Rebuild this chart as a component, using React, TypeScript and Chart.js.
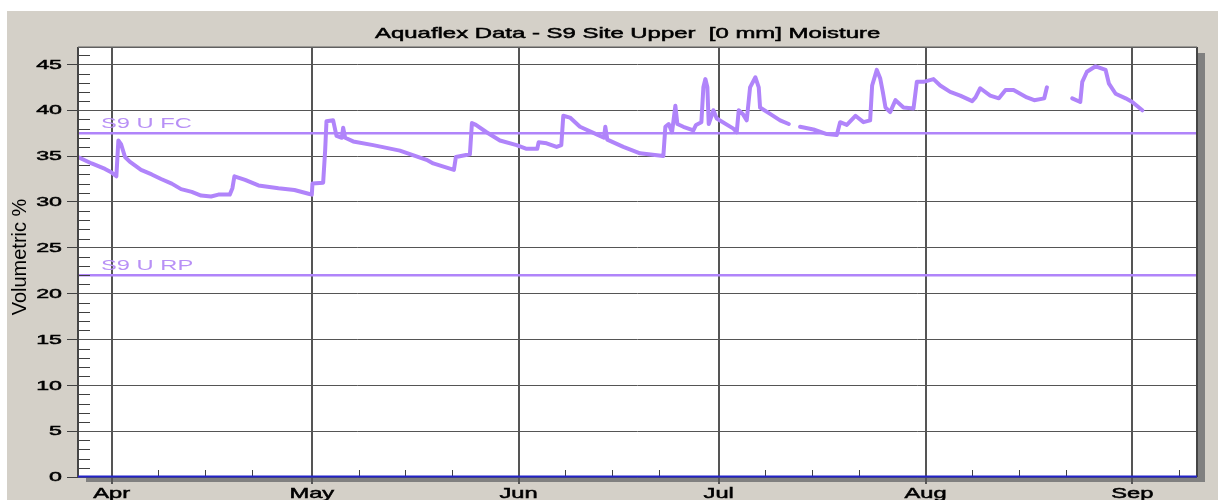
import { useEffect, useRef } from 'react';
import { Chart, registerables } from 'chart.js';

Chart.register(...registerables);

// ---------- text ----------
const titleText = 'Aquaflex Data - S9 Site Upper  [0 mm] Moisture';
const yAxisTitle = 'Volumetric %';
const seriesName = 'S9 Upper [0 mm]';
const fcLabel = 'S9 U FC';
const rpLabel = 'S9 U RP';

// ---------- reference levels ----------
const fieldCapacity = 37.5;
const refillPoint = 22;

// ---------- x axis (days after 1 April) ----------
const xMin = -5.05;
const xMax = 162.7;
const monthDays = [0, 30, 61, 91, 122, 153];
const monthLabels = ['Apr', 'May', 'Jun', 'Jul', 'Aug', 'Sep'];
const weekDays = [7, 14, 21, 37, 44, 51, 68, 75, 82, 98, 105, 112, 129, 136, 143, 160];

// ---------- y axis ----------
const yMin = 0;
const yMax = 46.9;
const yLabelValues = [0, 5, 10, 15, 20, 25, 30, 35, 40, 45];
const yMinorValues = [
  1, 2, 3, 4, 6, 7, 8, 9, 11, 12, 13, 14, 16, 17, 18, 19, 21, 22, 23, 24,
  26, 27, 28, 29, 31, 32, 33, 34, 36, 37, 38, 39, 41, 42, 43, 44, 46,
];

// ---------- series (x = days after 1 April, y = volumetric %) ----------
const days = [
  -5.05, -3, -1, 0, 0.7, 1.0, 1.4, 2.0, 2.7, 4.4, 6, 7.4, 9, 10.4, 12, 13.4, 14.9, 16, 17.7, 18.1,
  18.4, 20, 22, 25, 27.4, 29.5, 30, 30.1, 31.7, 32.0, 32.2, 33.2, 33.7, 34.5, 34.7, 35.0, 36.2, 39.2,
  43.2, 47.2, 48.2, 51.3, 51.6, 53.7, 54.0, 54.6, 56.2, 58.2, 60.7, 62.2, 63.8, 64.0, 65.2, 66.7,
  67.4, 67.7, 68.7, 70.2, 73.2, 73.8, 74.0, 74.3, 76.7, 79.2, 82.7, 83.0, 83.5, 84.0, 84.5, 84.8,
  85.7, 87.2, 87.6, 88.4, 88.7, 89.0, 89.3, 89.5, 90.2, 90.7, 93.2, 93.7, 94.0, 94.6, 95.2, 95.7,
  96.5, 97.0, 97.2, 98.7, 100.2, 101.5, 102.3, 103.2, 105.2, 107.2, 108.7, 109.2, 110.2, 111.5,
  112.7, 113.7, 114.0, 114.7, 115.2, 115.6, 116.0, 116.7, 117.5, 118.7, 120.2, 120.7, 121.7, 123.2,
  124.2, 125.7, 127.2, 129.0, 129.5, 130.2, 131.7, 133.0, 134.0, 135.2, 137.2, 138.3, 139.8, 140.2,
  142.0, 144.0, 145.2, 145.5, 146.2, 147.5, 149.0, 149.5, 150.5, 152.0, 153.0, 154.5,
];
const moisture: (number | null)[] = [
  34.9, 34.2, 33.6, 33.2, 32.8, 36.7, 36.3, 34.9, 34.4, 33.5, 33.0, 32.5, 32.0, 31.4, 31.1, 30.7, 30.6, 30.8, 30.8, 31.5,
  32.8, 32.4, 31.8, 31.5, 31.3, 30.9, 30.8, 32.0, 32.1, 35.6, 38.8, 38.9, 37.2, 37.0, 38.1, 37.0, 36.6, 36.2,
  35.6, 34.6, 34.2, 33.5, 34.9, 35.2, 38.6, 38.4, 37.6, 36.7, 36.2, 35.8, 35.8, 36.5, 36.4, 36.0,
  36.2, 39.4, 39.2, 38.2, 37.2, 37.0, 38.2, 36.8, 36.0, 35.3, 35.0, 38.2, 38.5, 37.6, 40.5, 38.5,
  38.2, 37.8, 38.4, 38.7, 42.5, 43.4, 42.5, 38.5, 40.0, 39.1, 38.0, 37.6, 40.0, 39.6, 38.9, 42.5,
  43.6, 42.5, 40.3, 39.6, 38.9, 38.5, null, 38.2, 37.9, 37.4, 37.3, 38.7, 38.4, 39.4,
  38.7, 38.9, 42.7, 44.4, 43.5, 42.0, 40.3, 39.8, 41.1, 40.3, 40.2, 43.1, 43.1, 43.4,
  42.7, 42.0, 41.6, 41.0, 41.4, 42.4, 41.6, 41.3, 42.2, 42.2, 41.4, 41.1, 41.3, 42.5,
  null, 41.3, 40.9, 43.1, 44.2, 44.8, 44.4, 42.9, 41.8, 41.3, 40.9, 40.0,
];

// ---------- styling ----------
const purple = '#b084fa';
const labelPurple = '#b890f6';
const gridGray = '#555555';
const panelGray = '#d4d0c8';
const shadowGray = '#808080';
const axisBlue = '#2323c8';
const fontFamily = '"Liberation Sans", Arial, sans-serif';

const stretchedText = (
  ctx: CanvasRenderingContext2D,
  text: string,
  x: number,
  y: number,
  sx: number,
  align: CanvasTextAlign,
  baseline: CanvasTextBaseline,
  weight = 0.5,
) => {
  ctx.save();
  ctx.translate(x, y);
  ctx.scale(sx, 1);
  ctx.textAlign = align;
  ctx.textBaseline = baseline;
  ctx.fillText(text, 0, 0);
  if (weight > 0) {
    ctx.strokeStyle = ctx.fillStyle as string;
    ctx.lineWidth = weight;
    ctx.strokeText(text, 0, 0);
  }
  ctx.restore();
};

const panelPlugin = {
  id: 'panelPlugin',
  beforeDraw(chart: any) {
    const { ctx, chartArea: a, width, height } = chart;
    ctx.save();
    ctx.fillStyle = '#ffffff';
    ctx.fillRect(0, 0, width, height);
    ctx.fillStyle = panelGray;
    ctx.fillRect(7, 11, width - 7, height - 11);
    ctx.fillStyle = shadowGray;
    ctx.fillRect(a.left + 8, a.top + 6, a.right - a.left, a.bottom - a.top - 1);
    ctx.fillStyle = '#ffffff';
    ctx.fillRect(a.left, a.top, a.right - a.left, a.bottom - a.top);
    ctx.restore();
  },
  afterDraw(chart: any) {
    const { ctx, chartArea: a } = chart;
    const xs = chart.scales.x;
    const ys = chart.scales.y;
    ctx.save();
    // minor ticks inside the plot
    ctx.strokeStyle = '#404040';
    ctx.lineWidth = 1;
    ctx.beginPath();
    yMinorValues.forEach((v) => {
      const y = Math.round(ys.getPixelForValue(v)) + 0.5;
      ctx.moveTo(a.left, y);
      ctx.lineTo(a.left + 12, y);
    });
    weekDays.forEach((d) => {
      const x = Math.round(xs.getPixelForValue(d)) + 0.5;
      ctx.moveTo(x, a.bottom);
      ctx.lineTo(x, a.bottom - 7);
    });
    ctx.stroke();
    // frame
    ctx.fillStyle = '#454545';
    ctx.fillRect(a.left - 1, a.top, 2, a.bottom - a.top);
    ctx.fillRect(a.right - 1, a.top, 2, a.bottom - a.top);
    ctx.fillStyle = '#606060';
    ctx.fillRect(a.left, a.top - 0.5, a.right - a.left, 1.5);
    ctx.fillStyle = axisBlue;
    ctx.fillRect(a.left, a.bottom - 1.5, a.right - a.left, 2);

    // texts
    ctx.fillStyle = '#000000';
    ctx.font = `15px ${fontFamily}`;
    stretchedText(ctx, titleText, 375, 37.5, 1.595, 'left', 'alphabetic');
    monthDays.forEach((d, i) => {
      stretchedText(ctx, monthLabels[i], xs.getPixelForValue(d), 497.5, 1.58, 'center', 'alphabetic');
    });
    ctx.font = `13.5px ${fontFamily}`;
    yLabelValues.forEach((v) => {
      stretchedText(ctx, String(v), 62, ys.getPixelForValue(v) + 0.5, 1.72, 'right', 'middle');
    });
    // rotated axis title
    ctx.save();
    ctx.font = `20px ${fontFamily}`;
    ctx.translate(20, 257);
    ctx.rotate(-Math.PI / 2);
    ctx.textAlign = 'center';
    ctx.textBaseline = 'middle';
    ctx.fillText(yAxisTitle, 0, 0);
    ctx.restore();
    // level labels
    ctx.fillStyle = labelPurple;
    ctx.font = `15px ${fontFamily}`;
    stretchedText(ctx, fcLabel, a.left + 23, ys.getPixelForValue(fieldCapacity) - 5.5, 1.58, 'left', 'alphabetic', 0);
    stretchedText(ctx, rpLabel, a.left + 23, ys.getPixelForValue(refillPoint) - 5.5, 1.58, 'left', 'alphabetic', 0);
    ctx.restore();
  },
};

export default function App() {
  const canvasRef = useRef<HTMLCanvasElement | null>(null);

  useEffect(() => {
    if (!canvasRef.current) return;
    const series = days.map((d, i) => ({ x: d, y: moisture[i] }));
    const chart = new Chart(canvasRef.current, {
      type: 'line',
      data: {
        datasets: [
          {
            label: fcLabel,
            data: [
              { x: xMin, y: fieldCapacity },
              { x: xMax, y: fieldCapacity },
            ],
            borderColor: purple,
            borderWidth: 2.5,
            pointRadius: 0,
          },
          {
            label: rpLabel,
            data: [
              { x: xMin, y: refillPoint },
              { x: xMax, y: refillPoint },
            ],
            borderColor: purple,
            borderWidth: 2.5,
            pointRadius: 0,
          },
          {
            label: seriesName,
            data: series,
            borderColor: purple,
            borderWidth: 4,
            pointRadius: 0,
            tension: 0,
            spanGaps: false,
            borderJoinStyle: 'round',
            borderCapStyle: 'round',
          },
        ],
      },
      options: {
        responsive: false,
        animation: false,
        events: [],
        layout: { padding: { left: 0, top: 47, right: 21, bottom: 0 } },
        plugins: {
          legend: { display: false },
          title: { display: false },
          tooltip: { enabled: false },
        },
        scales: {
          x: {
            type: 'linear',
            min: xMin,
            max: xMax,
            afterBuildTicks: (s: any) => {
              s.ticks = [...monthDays, ...weekDays].sort((p, q) => p - q).map((v) => ({ value: v }));
            },
            afterFit: (s: any) => {
              s.height = 23;
            },
            ticks: { display: false },
            border: { display: false },
            grid: {
              color: (c: any) => (c.tick && monthDays.includes(c.tick.value) ? gridGray : 'rgba(0,0,0,0)'),
              lineWidth: 2,
              drawTicks: true,
              tickLength: 7,
              tickColor: (c: any) => (c.tick && monthDays.includes(c.tick.value) ? gridGray : 'rgba(0,0,0,0)'),
            },
          },
          y: {
            type: 'linear',
            min: yMin,
            max: yMax,
            afterBuildTicks: (s: any) => {
              s.ticks = [...yLabelValues, ...yMinorValues].sort((p, q) => p - q).map((v) => ({ value: v }));
            },
            afterFit: (s: any) => {
              s.width = 78;
            },
            ticks: { display: false },
            border: { display: false },
            grid: {
              color: (c: any) => (c.tick && c.tick.value % 5 === 0 ? gridGray : 'rgba(0,0,0,0)'),
              lineWidth: 1,
              drawTicks: true,
              tickLength: 11,
              tickColor: (c: any) => (c.tick && c.tick.value % 5 === 0 ? '#404040' : 'rgba(0,0,0,0)'),
            },
          },
        },
      },
      plugins: [panelPlugin],
    });
    return () => chart.destroy();
  }, []);

  return (
    <div style={{ position: 'fixed', left: 0, top: 0, width: 1218, height: 500, overflow: 'hidden' }}>
      <canvas ref={canvasRef} width={1218} height={500} style={{ display: 'block' }} />
    </div>
  );
}
